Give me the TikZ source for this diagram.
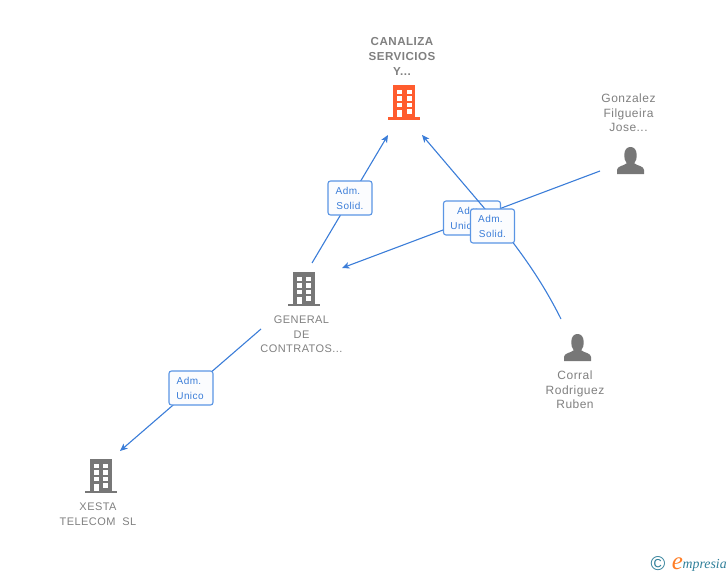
\documentclass[tikz,border=0pt]{standalone}
\usepackage{fontspec}
\setmainfont{Liberation Sans}
\newfontfamily\lbl[LetterSpace=4]{Liberation Sans}
\newfontfamily\lgo{Liberation Serif}
\usetikzlibrary{arrows.meta}
\definecolor{edgeblue}{HTML}{3B7DD8}
\definecolor{boxblue}{HTML}{5A95E4}
\definecolor{boxfill}{HTML}{FBFCFE}
\definecolor{txtgray}{HTML}{808080}
\definecolor{icongray}{HTML}{777777}
\definecolor{orangeic}{HTML}{FF5C2E}
\definecolor{tealc}{HTML}{2F7F99}
\tikzset{
  x=1pt,y=-1pt,
  conn/.style={draw=edgeblue,line width=1.1pt,-{Stealth[length=7.5pt,width=6.5pt,inset=2pt]}},
  rel/.style={draw=boxblue,line width=1.1pt,rounded corners=2.5pt,fill=boxfill,
    text=edgeblue,font=\fontsize{10}{15}\lbl\selectfont,align=center,inner sep=0pt,
    minimum height=34pt},
  captxt/.style={text=txtgray,font=\fontsize{11}{14.7}\lbl\selectfont,align=center,inner sep=0pt},
  capname/.style={text=txtgray,font=\fontsize{12}{14.7}\lbl\selectfont,align=center,inner sep=0pt},
  capbold/.style={text=txtgray,font=\fontsize{11.6}{15}\lbl\bfseries\selectfont,align=center,inner sep=0pt},
  building/.pic={
    \fill[pic actions] (-11,-31.5) rectangle (11,0);
    \fill[pic actions] (-16,0) rectangle (16,2.6);
    \foreach \yy in {-27,-20.5,-14}{
      \fill[white] (-7,\yy) rectangle (-2,\yy+4.5);
      \fill[white] (2.5,\yy) rectangle (7.5,\yy+4.5);}
    \fill[white] (-7,-7) rectangle (-2,0);
    \fill[white] (2.5,-8) rectangle (7.5,-3);
  },
  person/.pic={
    \fill[pic actions] (-13.5,13.5) -- (13.5,13.5) -- (13.5,9.5)
      .. controls (13.5,5.5) and (7,5.5) .. (3.8,2.8)
      .. controls (6,0) and (6.4,-3) .. (6.2,-6)
      .. controls (6,-11) and (3.5,-13.5) .. (0,-13.5)
      .. controls (-3.5,-13.5) and (-6,-11) .. (-6.2,-6)
      .. controls (-6.4,-3) and (-6,0) .. (-3.8,2.8)
      .. controls (-7,5.5) and (-13.5,5.5) .. (-13.5,9.5) -- cycle;
  }
}
\begin{document}
\begin{tikzpicture}
\useasboundingbox (0,0) rectangle (728,575);
% connector end points
\coordinate (genTop) at (312,263);
\coordinate (canL) at (388,135);
\coordinate (gonE) at (600,171);
\coordinate (genR) at (342,268);
\coordinate (corE) at (561,319);
\coordinate (canR) at (422,135);
\coordinate (genL) at (261,329);
\coordinate (xesE) at (120,451);
% connectors and their labels
\draw[conn] (genTop) -- (canL);
\node[rel,minimum width=44pt] (r1) at (350,198) {Adm.\hspace*{4pt}\\Solid.};
\draw[conn] (genL) -- (xesE);
\node[rel,minimum width=44pt] (r4) at (191,388) {Adm.\hspace*{4pt}\\Unico\hspace*{2pt}};
\draw[conn] (gonE) -- (genR);
\node[rel,minimum width=57pt] (r2) at (472,218) {Adm.\hspace*{5pt}\\Unico\hspace*{16pt}};
\draw[conn] (corE) .. controls (545,287) and (528,262) .. (508,236) -- (canR);
\node[rel,minimum width=44pt] (r3) at (492.5,226) {Adm.\hspace*{4pt}\\Solid.};
% icons
\pic[fill=orangeic] at (404,117) {building};
\pic[fill=icongray] at (303.5,303.5) {building};
\pic[fill=icongray] at (100.5,490.5) {building};
\pic[fill=icongray] at (630.5,160.5) {person};
\pic[fill=icongray] at (577.5,347.5) {person};
% captions
\node[capbold] (can) at (402,56) {CANALIZA\\SERVICIOS\\Y...};
\node[capname] (gon) at (628.5,113) {Gonzalez\\Filgueira\\Jose...};
\node[captxt] (gen) at (301.5,334.5) {GENERAL\\DE\\CONTRATOS...};
\node[capname] (cor) at (575,390) {Corral\\Rodriguez\\Ruben};
\node[captxt] (xes) at (98,514) {XESTA\\TELECOM\ \ SL};
% logo
\node[inner sep=0pt,text=tealc,font=\fontsize{20}{20}\selectfont] (copy) at (658,564) {©};
\node[inner sep=0pt,text=orangeic!80!yellow,font=\fontsize{25}{25}\lgo\itshape\selectfont] (ee) at (677.5,563.5) {e};
\node[inner sep=0pt,anchor=west,text=tealc,font=\fontsize{13.8}{14}\lgo\itshape\selectfont] (emp) at (682.5,565) {mpresia};
\end{tikzpicture}
\end{document}
